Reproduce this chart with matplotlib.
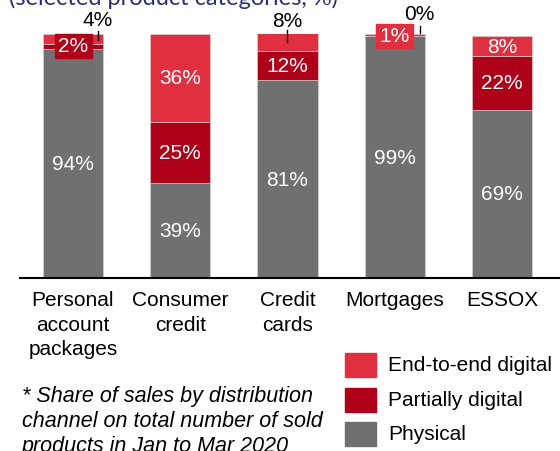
import matplotlib
matplotlib.use("Agg")
from matplotlib import pyplot as plt
from matplotlib.patches import Rectangle

plt.rcParams['font.family'] = ['Liberation Sans', 'DejaVu Sans']

categories = ["Personal\naccount\npackages", "Consumer\ncredit", "Credit\ncards", "Mortgages", "ESSOX"]
physical = [94, 39, 81, 99, 69]
partial = [2, 25, 12, 0, 22]
end_to_end = [4, 36, 8, 1, 8]

series_names = ["Physical", "Partially digital", "End-to-end digital"]
colors = ["#707070", "#AE0018", "#E0303F"]

footnote = "* Share of sales by distribution\nchannel on total number of sold\nproducts in Jan to Mar 2020"
title = "(selected product categories, %)"

# how each value label is drawn: (category index, series index) -> style
callouts = {(0, 2): (0.233, 106.1, 101.4, 97.7),
            (2, 2): (0.0, 105.7, 101.8, 96.7),
            (3, 1): (0.233, 108.6, 103.3, 100.4)}
boxed = {(0, 1): (95.1, 9.8), (3, 2): (99.2, 9.8)}


def main():
    fig = plt.figure(figsize=(5.6, 4.52), dpi=100)
    ax = fig.add_axes([20 / 560, 173 / 452, 540 / 560, 244 / 452])

    x = list(range(len(categories)))
    values = [physical, partial, end_to_end]
    bottoms = [0] * len(categories)
    for s, vals in enumerate(values):
        ax.bar(x, vals, width=0.56, bottom=bottoms, color=colors[s],
               edgecolor="#d9d9d9", linewidth=0.4)
        for i, v in enumerate(vals):
            key = (i, s)
            if key in callouts:
                dx, ty, y0, y1 = callouts[key]
                ax.plot([i + dx, i + dx], [y0, y1], color="black", lw=1, clip_on=False)
                ax.text(i + dx, ty, f"{v}%", ha="center", va="center",
                        fontsize=15, color="black", clip_on=False)
            elif key in boxed:
                yc, h = boxed[key]
                ax.add_patch(Rectangle((i - 0.172, yc - h / 2), 0.345, h,
                                       color=colors[s], clip_on=False, zorder=3))
                ax.text(i, yc, f"{v}%", ha="center", va="center",
                        fontsize=15, color="white", zorder=4, clip_on=False)
            else:
                ax.text(i, bottoms[i] + v / 2, f"{v}%", ha="center", va="center",
                        fontsize=15, color="white")
        bottoms = [b + v for b, v in zip(bottoms, vals)]

    ax.set_xlim(-0.494, 4.541)
    ax.set_ylim(0, 100)
    ax.set_xticks(x)
    ax.set_xticklabels(categories, fontsize=15, linespacing=1.35)
    ax.tick_params(axis="x", length=0, pad=9)
    ax.set_yticks([])
    for sp in ["top", "right", "left"]:
        ax.spines[sp].set_visible(False)
    ax.spines["bottom"].set_linewidth(1.5)

    # legend
    for j, s in enumerate([2, 1, 0]):
        yc = [366, 401, 435][j]
        fig.add_artist(Rectangle((345 / 560, (452 - yc - 12) / 452), 31 / 560, 24 / 452,
                                 color=colors[s], transform=fig.transFigure))
        fig.text(388 / 560, (452 - yc) / 452, series_names[s], fontsize=15,
                 va="center", ha="left")

    fig.text(22 / 560, (452 - 422) / 452, footnote, fontsize=15.5, style="italic",
             va="center", ha="left", linespacing=1.25)
    fig.text(9 / 560, (452 - 5) / 452, title, fontsize=17, family="Lato",
             color="#2e2f72", va="baseline", ha="left")

    fig.savefig("out.png", dpi=100)


if __name__ == '__main__':
    main()
